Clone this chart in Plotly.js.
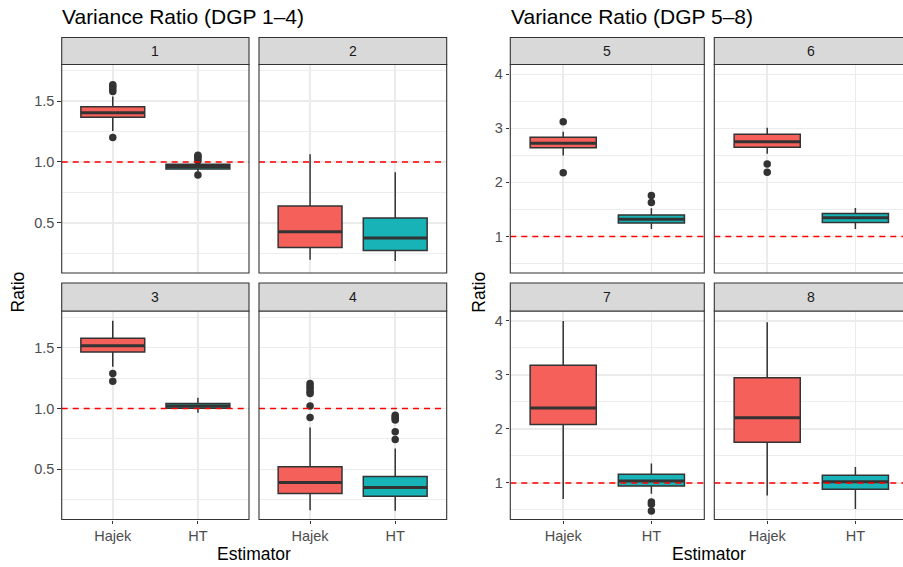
<!DOCTYPE html>
<html>
<head>
<meta charset="utf-8">
<script src="https://cdn.plot.ly/plotly-3.0.1.min.js"></script>
<style>html,body{margin:0;padding:0;background:#fff}#chart{width:903px;height:567px}</style>
</head>
<body>
<div id="chart"></div>
<script>
// ---------- data ----------
const estimators = ['Hajek', 'HT'];
const dgpLabels = ['1', '2', '3', '4', '5', '6', '7', '8'];
const groupTitles = ['Variance Ratio (DGP 1\u20134)', 'Variance Ratio (DGP 5\u20138)'];
const referenceRatio = 1;

// Hajek box statistics per DGP 1..8
const hajekQ1     = [1.367, 0.296, 1.463, 0.301, 2.644, 2.650, 2.083, 1.755];
const hajekMedian = [1.405, 0.427, 1.515, 0.391, 2.725, 2.755, 2.386, 2.206];
const hajekQ3     = [1.454, 0.638, 1.578, 0.520, 2.836, 2.890, 3.178, 2.948];
const hajekLow    = [1.255, 0.195, 1.342, 0.164, 2.500, 2.530, 0.703, 0.766];
const hajekHigh   = [1.537, 1.063, 1.720, 0.844, 2.940, 3.010, 4.000, 3.976];
const hajekOutliers = [
  [1.200, 1.580, 1.600, 1.620, 1.635],
  [],
  [1.288, 1.224],
  [1.206, 1.185, 1.164, 1.140, 1.123, 1.020, 0.926],
  [3.125, 2.180],
  [2.340, 2.190],
  [],
  []
];

// HT box statistics per DGP 1..8
const htQ1     = [0.942, 0.271, 1.002, 0.279, 1.247, 1.259, 0.944, 0.883];
const htMedian = [0.962, 0.375, 1.020, 0.350, 1.320, 1.345, 1.037, 1.020];
const htQ3     = [0.981, 0.540, 1.041, 0.441, 1.395, 1.425, 1.161, 1.143];
const htLow    = [0.920, 0.186, 0.964, 0.158, 1.137, 1.136, 0.800, 0.518];
const htHigh   = [0.995, 0.915, 1.087, 0.671, 1.520, 1.525, 1.360, 1.297];
const htOutliers = [
  [0.893, 1.010, 1.030, 1.045, 1.055],
  [],
  [],
  [0.945, 0.930, 0.918, 0.905, 0.808, 0.745],
  [1.628, 1.757],
  [],
  [0.647, 0.605, 0.480],
  []
];

const leftTicks = [0.5, 1.0, 1.5];
const leftTickText = ['0.5', '1.0', '1.5'];
const leftMinor = [0.25, 0.75, 1.25, 1.75];
const rightTicks = [1, 2, 3, 4];
const rightTickText = ['1', '2', '3', '4'];
const rightMinor = [0.5, 1.5, 2.5, 3.5];

// ---------- styling / geometry ----------
const W = 903, H = 567;
const fx = v => v / W;
const fy = v => 1 - v / H;
const fills = ['#F5605B', '#17B3B7'];
const dark = '#333333';
const grid = '#EBEBEB';
const FONT = 'Liberation Sans, Arial, sans-serif';

const colX = [[61.7, 249], [259, 446.7], [510.3, 704.3], [714.3, 908.3]];
const rowY = [{s0: 37.5, s1: 64.5, p1: 273}, {s0: 283, s1: 311, p1: 519.5}];
const yRanges = [[0.087, 1.801], [0.323, 4.183]];
const boxWidth = 0.75;

const data = [];
const layout = {
  width: W, height: H,
  margin: {l: 0, r: 0, t: 0, b: 0},
  paper_bgcolor: '#fff', plot_bgcolor: '#fff',
  showlegend: false,
  font: {family: FONT},
  shapes: [], annotations: []
};

for (let i = 0; i < 8; i++) {
  const group = i < 4 ? 0 : 1;
  const k = i % 4;
  const col = group * 2 + (k % 2);
  const row = Math.floor(k / 2);
  const [x0, x1] = colX[col];
  const r = rowY[row];
  const xa = 'x' + (i + 1), ya = 'y' + (i + 1);
  const xKey = 'xaxis' + (i + 1), yKey = 'yaxis' + (i + 1);
  const pxPerUnit = (colX[group * 2][1] - colX[group * 2][0]) / 2.2;
  const domX1 = Math.min(x1, W);
  const xMax = 0.4 + (domX1 - x0) / pxPerUnit;

  layout[xKey] = {
    domain: [fx(x0), fx(domX1)], range: [0.4, xMax], anchor: ya,
    tickvals: [1, 2], ticktext: estimators,
    showticklabels: row === 1, ticks: row === 1 ? 'outside' : '',
    ticklen: 3.5, tickwidth: 1.1, tickcolor: dark,
    tickfont: {size: 14.5, color: '#4D4D4D', family: FONT},
    showgrid: true, gridcolor: grid, gridwidth: 1.5,
    zeroline: false, showline: false, fixedrange: true
  };
  layout[yKey] = {
    domain: [fy(r.p1), fy(r.s1)], range: yRanges[group], anchor: xa,
    tickvals: group === 0 ? leftTicks : rightTicks,
    ticktext: group === 0 ? leftTickText : rightTickText,
    showticklabels: k % 2 === 0, ticks: k % 2 === 0 ? 'outside' : '',
    ticklen: 3.5, tickwidth: 1.1, tickcolor: dark,
    tickfont: {size: 14.5, color: '#4D4D4D', family: FONT},
    showgrid: true, gridcolor: grid, gridwidth: 1.5,
    minor: {tickvals: group === 0 ? leftMinor : rightMinor, showgrid: true, gridcolor: grid, gridwidth: 0.9, ticks: ''},
    zeroline: false, showline: false, fixedrange: true
  };

  const stats = [
    {q1: hajekQ1[i], med: hajekMedian[i], q3: hajekQ3[i], lo: hajekLow[i], hi: hajekHigh[i], out: hajekOutliers[i]},
    {q1: htQ1[i], med: htMedian[i], q3: htQ3[i], lo: htLow[i], hi: htHigh[i], out: htOutliers[i]}
  ];
  stats.forEach((s, j) => {
    const xPos = j + 1;
    data.push({
      type: 'box', xaxis: xa, yaxis: ya,
      x: [xPos], q1: [s.q1], median: [s.med], q3: [s.q3],
      lowerfence: [s.lo], upperfence: [s.hi],
      width: boxWidth, whiskerwidth: 0,
      fillcolor: fills[j], line: {color: dark, width: 1.5},
      boxpoints: false, hoverinfo: 'skip'
    });
    data.push({
      type: 'scatter', mode: 'lines', xaxis: xa, yaxis: ya,
      x: [xPos - boxWidth / 2, xPos + boxWidth / 2], y: [s.med, s.med],
      line: {color: dark, width: 3}, hoverinfo: 'skip'
    });
    if (s.out.length) {
      data.push({
        type: 'scatter', mode: 'markers', xaxis: xa, yaxis: ya,
        x: s.out.map(() => xPos), y: s.out,
        marker: {color: dark, size: 7.5}, hoverinfo: 'skip', cliponaxis: false
      });
    }
  });
  data.push({
    type: 'scatter', mode: 'lines', xaxis: xa, yaxis: ya,
    x: [0.4, 2.6], y: [referenceRatio, referenceRatio],
    line: {color: '#FF0000', width: 1.6, dash: '6px,5px'}, hoverinfo: 'skip'
  });

  // panel border
  layout.shapes.push({type: 'rect', xref: 'paper', yref: 'paper', layer: 'above',
    x0: fx(x0), x1: fx(x1), y0: fy(r.p1), y1: fy(r.s1),
    line: {color: dark, width: 1.1}, fillcolor: 'rgba(0,0,0,0)'});
  // strip
  layout.shapes.push({type: 'rect', xref: 'paper', yref: 'paper', layer: 'above',
    x0: fx(x0), x1: fx(x1), y0: fy(r.s1), y1: fy(r.s0),
    line: {color: dark, width: 1.1}, fillcolor: '#D9D9D9'});
  layout.annotations.push({xref: 'paper', yref: 'paper', showarrow: false,
    x: fx((x0 + x1) / 2), y: fy((r.s0 + r.s1) / 2), xanchor: 'center', yanchor: 'middle',
    text: dgpLabels[i], font: {size: 14, color: '#1A1A1A', family: FONT}});
}

// group titles and axis titles
[[61, 254, 17.5], [510, 709, 478.7]].forEach(([tx, cx, ry], g) => {
  layout.annotations.push({xref: 'paper', yref: 'paper', showarrow: false,
    x: fx(tx - 1), y: fy(16), xanchor: 'left', yanchor: 'middle',
    text: groupTitles[g], font: {size: 21, color: '#000', family: FONT}});
  layout.annotations.push({xref: 'paper', yref: 'paper', showarrow: false,
    x: fx(cx), y: fy(554), xanchor: 'center', yanchor: 'middle',
    text: 'Estimator', font: {size: 17.5, color: '#000', family: FONT}});
  layout.annotations.push({xref: 'paper', yref: 'paper', showarrow: false,
    x: fx(ry), y: fy(292), xanchor: 'center', yanchor: 'middle', textangle: -90,
    text: 'Ratio', font: {size: 17.5, color: '#000', family: FONT}});
});

Plotly.newPlot('chart', data, layout, {displayModeBar: false, staticPlot: true});
</script>
</body>
</html>
